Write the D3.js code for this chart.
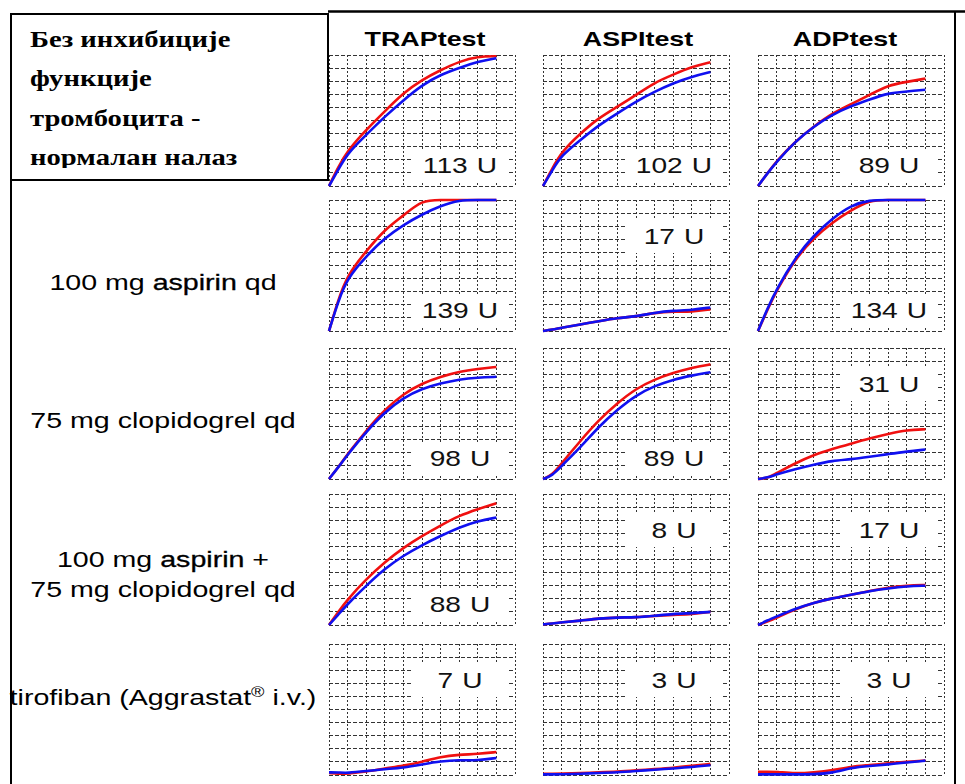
<!DOCTYPE html>
<html>
<head>
<meta charset="utf-8">
<script src="https://cdn.jsdelivr.net/npm/d3@7"></script>
<style>
body { margin: 0; background: #fff; }
svg { display: block; }
</style>
</head>
<body>
<div id="chart"></div>
<script>
// column headers, row labels and the result (U) for each panel
var tests = ['TRAPtest', 'ASPItest', 'ADPtest'];
var boxLines = ['Без инхибиције', 'функције', 'тромбоцита -', 'нормалан налаз'];
var regimens = [
    null,
    ['100 mg |aspirin| qd'],
    ['75 mg clopidogrel qd'],
    ['100 mg |aspirin| +', '75 mg clopidogrel qd'],
    ['tirofiban (Aggrastat^® i.v.)']
];
var units = [[113, 102, 89], [139, 17, 134], [98, 89, 31], [88, 8, 17], [7, 3, 3]];

// time in grid columns, aggregation in grid rows (0-10), one array per row
var time = [0, 0.5, 1, 2, 3, 4, 5, 6, 7, 8, 9];
var trapRed = [
    [0, 1.45, 2.7, 4.3, 5.7, 7.1, 8.1, 8.85, 9.5, 9.9, 9.9],
    [0, 2.4, 4.3, 6.1, 7.75, 8.8, 10, 10, 10, 10, 10],
    [0, 0.9, 1.9, 3.7, 5.3, 6.5, 7.3, 7.8, 8.2, 8.4, 8.55],
    [0, 1.0, 1.95, 3.5, 4.8, 5.9, 6.8, 7.6, 8.35, 8.85, 9.3],
    [0.15, 0.1, 0.1, 0.25, 0.5, 0.7, 1.0, 1.4, 1.55, 1.6, 1.75]
];
var trapBlue = [
    [0, 1.25, 2.5, 3.9, 5.3, 6.55, 7.7, 8.5, 9.0, 9.5, 9.75],
    [0, 2.3, 4.05, 5.7, 7.1, 8.1, 8.9, 9.55, 10, 10, 10],
    [0, 0.9, 1.85, 3.6, 5.1, 6.2, 6.9, 7.3, 7.6, 7.75, 7.8],
    [0, 0.8, 1.6, 3.0, 4.3, 5.3, 6.1, 6.8, 7.45, 7.95, 8.2],
    [0.2, 0.2, 0.15, 0.3, 0.45, 0.55, 0.8, 1.05, 1.15, 1.1, 1.3]
];
var aspiRed = [
    [0, 1.35, 2.6, 4.0, 5.2, 6.05, 6.95, 7.9, 8.5, 9.1, 9.45],
    [0, 0.1, 0.25, 0.5, 0.75, 1.0, 1.1, 1.4, 1.5, 1.45, 1.65],
    [0, 0.3, 1.2, 2.9, 4.5, 5.8, 6.9, 7.6, 8.1, 8.5, 8.75],
    [0.05, 0.1, 0.2, 0.33, 0.5, 0.58, 0.58, 0.7, 0.78, 0.82, 1.0],
    [0.1, 0.1, 0.1, 0.15, 0.2, 0.25, 0.35, 0.45, 0.55, 0.7, 0.85]
];
var aspiBlue = [
    [0, 1.2, 2.35, 3.5, 4.65, 5.55, 6.45, 7.2, 7.85, 8.35, 8.7],
    [0, 0.1, 0.25, 0.5, 0.75, 1.0, 1.1, 1.4, 1.55, 1.6, 1.8],
    [0, 0.25, 1.0, 2.4, 4.0, 5.3, 6.4, 7.1, 7.6, 7.9, 8.15],
    [0.05, 0.1, 0.2, 0.33, 0.5, 0.58, 0.58, 0.7, 0.85, 0.9, 1.0],
    [0.05, 0.05, 0.05, 0.1, 0.15, 0.2, 0.3, 0.4, 0.5, 0.6, 0.75]
];
var adpRed = [
    [0, 0.95, 1.9, 3.4, 4.55, 5.55, 6.25, 6.95, 7.7, 7.95, 8.2],
    [0, 1.6, 3.1, 5.5, 7.1, 8.3, 9.2, 10, 10, 10, 10],
    [0, 0.05, 0.45, 1.2, 1.85, 2.3, 2.7, 3.1, 3.45, 3.75, 3.8],
    [0, 0.25, 0.55, 1.2, 1.7, 2.05, 2.3, 2.6, 2.85, 3.0, 3.05],
    [0.25, 0.25, 0.25, 0.1, 0.2, 0.35, 0.65, 0.75, 0.9, 1.0, 1.1]
];
var adpBlue = [
    [0, 0.95, 1.85, 3.4, 4.55, 5.45, 6.1, 6.6, 7.1, 7.2, 7.35],
    [0, 1.7, 3.2, 5.6, 7.3, 8.6, 9.6, 10, 10, 10, 10],
    [0, 0.1, 0.35, 0.75, 1.1, 1.4, 1.5, 1.7, 1.9, 2.1, 2.25],
    [0, 0.35, 0.65, 1.25, 1.7, 2.05, 2.3, 2.6, 2.8, 2.95, 3.0],
    [0.05, 0.05, 0.05, 0.05, 0.05, 0.15, 0.55, 0.7, 0.8, 0.95, 1.1]
];
var redSeries = [trapRed, aspiRed, adpRed];
var blueSeries = [trapBlue, aspiBlue, adpBlue];

// layout
var W = 965, H = 784;
var colX = [329, 543, 758], rowY = [55, 200, 348, 494, 644];
var titleX = [425, 638, 845];
var pw = 186, ph = 131;
var labelTop = [[0, 0, 0], [0, 1, 0], [0, 0, 1], [0, 1, 1], [1, 1, 1]];
var SX = 1.28;   // the picture is stretched sideways
var sans = '"Liberation Sans", Arial, sans-serif';

var svg = d3.select('#chart').append('svg')
    .attr('width', W)
    .attr('height', H);

var x = d3.scaleLinear().domain([0, 10]).range([0, pw]);
var y = d3.scaleLinear().domain([0, 10]).range([ph, 0]);
var line = d3.line()
    .x(function(d) { return x(d[0]); })
    .y(function(d) { return y(d[1]); })
    .curve(d3.curveBasis);

function put(sel, px, py, sx) {
    return sel.attr('transform', 'translate(' + px + ',' + py + ') scale(' + (sx || SX) + ',1)');
}

// frame lines
svg.append('rect').attr('x', 11).attr('y', 14).attr('width', 317).attr('height', 166)
    .attr('fill', 'none').attr('stroke', '#000').attr('stroke-width', 2);
svg.append('line').attr('x1', 328).attr('x2', 965).attr('y1', 11.5).attr('y2', 11.5)
    .attr('stroke', '#000').attr('stroke-width', 2.5);
svg.append('line').attr('x1', 11).attr('x2', 11).attr('y1', 180).attr('y2', H)
    .attr('stroke', '#000').attr('stroke-width', 2);
svg.append('line').attr('x1', 955).attr('x2', 955).attr('y1', 11).attr('y2', H)
    .attr('stroke', '#000').attr('stroke-width', 2);

svg.append('clipPath').attr('id', 'boxclip')
    .append('rect').attr('x', 12).attr('y', 15).attr('width', 315).attr('height', 153);
var boxText = svg.append('g').attr('clip-path', 'url(#boxclip)');
boxLines.forEach(function(t, i) {
    put(boxText.append('text'), 30, 47 + i * 39.3, 1.22)
        .attr('font-family', '"Liberation Serif", "DejaVu Serif", "Times New Roman", serif')
        .attr('font-weight', 'bold')
        .attr('font-size', 23.5)
        .text(t);
});

// column titles
tests.forEach(function(t, c) {
    put(svg.append('text'), titleX[c], 46)
        .attr('text-anchor', 'middle')
        .attr('font-family', sans)
        .attr('font-weight', 'bold')
        .attr('font-size', 21)
        .text(t);
});

// row labels
var labelMid = [0, 290, 428, 567, 705];
regimens.forEach(function(lines, r) {
    if (!lines) return;
    lines.forEach(function(l, k) {
        var t = put(svg.append('text'), 163, labelMid[r] + k * 30, 1.3)
            .attr('text-anchor', 'middle')
            .attr('font-family', sans)
            .attr('font-size', 22);
        l.split('|').forEach(function(part, j) {
            var bits = part.split('^');
            var s = t.append('tspan').text(bits[0]);
            if (j === 1) s.attr('stroke', '#000').attr('stroke-width', 0.3);
            if (bits.length > 1) {
                var sup = bits[1].charAt(0);
                t.append('tspan').attr('font-size', 14).attr('dy', -8).text(sup);
                t.append('tspan').attr('dy', 8).text(bits[1].slice(1));
            }
        });
    });
});

// panels
units.forEach(function(row, r) {
    row.forEach(function(u, c) {
        var g = svg.append('g').attr('transform', 'translate(' + colX[c] + ',' + rowY[r] + ')');

        g.selectAll('.v').data(d3.range(11)).enter().append('line')
            .attr('x1', function(d) { return x(d); }).attr('x2', function(d) { return x(d); })
            .attr('y1', 0).attr('y2', ph)
            .attr('stroke', '#333').attr('stroke-width', 1).attr('stroke-dasharray', '2,2')
            .attr('shape-rendering', 'crispEdges');
        g.selectAll('.h').data(d3.range(11)).enter().append('line')
            .attr('y1', function(d) { return y(d); }).attr('y2', function(d) { return y(d); })
            .attr('x1', 0).attr('x2', pw)
            .attr('stroke', '#333').attr('stroke-width', 1).attr('stroke-dasharray', '4,2')
            .attr('shape-rendering', 'crispEdges');

        var cx = 131;
        var cy = labelTop[r][c] ? 36 : ph - 21;
        g.append('rect').attr('x', cx - 48).attr('y', cy - 16).attr('width', 96).attr('height', 33)
            .attr('fill', '#fff');

        [[redSeries, '#f01010'], [blueSeries, '#1010f0']].forEach(function(s) {
            var vals = s[0][c][r];
            g.append('path')
                .datum(time.map(function(t, i) { return [t, vals[i]]; }))
                .attr('d', line)
                .attr('fill', 'none')
                .attr('stroke', s[1])
                .attr('stroke-width', 2.6);
        });

        var t = put(g.append('text'), cx, cy + 8)
            .attr('text-anchor', 'middle')
            .attr('font-family', sans)
            .attr('font-size', 22)
            .attr('fill', '#111');
        t.append('tspan').text(u + ' ');
        t.append('tspan').attr('dx', 1).text('U');
    });
});
</script>
</body>
</html>
